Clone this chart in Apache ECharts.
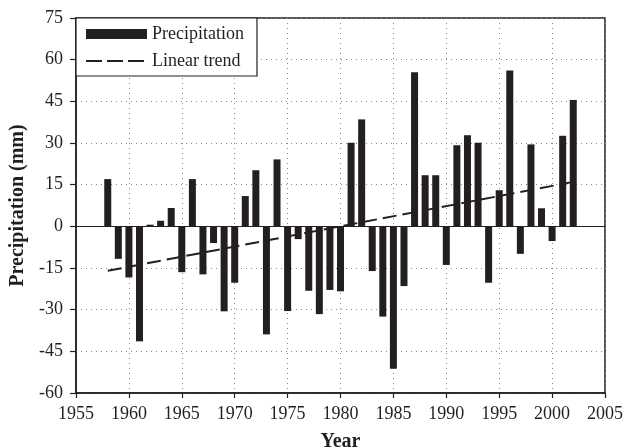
<!DOCTYPE html>
<html>
<head>
<meta charset="utf-8">
<script src="https://cdn.jsdelivr.net/npm/echarts@6/dist/echarts.min.js"></script>
<style>
html,body{margin:0;padding:0;background:#fff;}
#chart{width:625px;height:447px;}
</style>
</head>
<body>
<div id="chart"></div>
<script>
var years = [1958,1959,1960,1961,1962,1963,1964,1965,1966,1967,1968,1969,1970,1971,1972,1973,1974,1975,1976,1977,1978,1979,1980,1981,1982,1983,1984,1985,1986,1987,1988,1989,1990,1991,1992,1993,1994,1995,1996,1997,1998,1999,2000,2001,2002];
var precipitation = [17.0,-11.7,-18.4,-41.4,0.6,2.0,6.6,-16.5,17.0,-17.3,-6.0,-30.6,-20.3,10.9,20.2,-38.9,24.1,-30.5,-4.6,-23.2,-31.6,-22.9,-23.4,30.1,38.5,-16.1,-32.5,-51.3,-21.5,55.5,18.4,18.4,-13.9,29.2,32.8,30.1,-20.3,13.0,56.1,-9.9,29.5,6.5,-5.3,32.6,45.5];
var trendYears = [1958, 2002];
var trendValues = [-16.0, 16.0];
var xTicks = [1955,1960,1965,1970,1975,1980,1985,1990,1995,2000,2005];
var yTicks = [-60,-45,-30,-15,0,15,30,45,60,75];

var barData = years.map(function(y,i){ return [y, precipitation[i]]; });
var trendData = trendYears.map(function(y,i){ return [y, trendValues[i]]; });

var font = 'Liberation Serif';
var ink = '#231f20';
var chart = echarts.init(document.getElementById('chart'), null, {renderer:'canvas'});
chart.setOption({
  animation: false,
  backgroundColor: '#fff',
  textStyle: {fontFamily: font},
  grid: {left: 76, right: 20, top: 18, bottom: 54, outerBoundsMode: 'none', containLabel: false,
         show: true, borderColor: ink, borderWidth: 1.5, backgroundColor: 'transparent'},
  legend: {
    orient: 'vertical', left: 76, top: 18,
    padding: [7, 13, 6, 9], itemGap: 9,
    itemWidth: 61, itemHeight: 10,
    backgroundColor: '#fff', borderColor: ink, borderWidth: 1.2, borderRadius: 0,
    textStyle: {fontFamily: font, fontSize: 18, color: ink},
    data: [
      {name: 'Precipitation', icon: 'rect'},
      {name: 'Linear trend', icon: 'line',
       itemStyle: {color: ink, borderColor: ink, borderWidth: 2, borderType: [16,5]}}
    ]
  },
  xAxis: {
    type: 'value', min: xTicks[0], max: xTicks[xTicks.length-1], interval: 5,
    name: 'Year', nameLocation: 'middle', nameGap: 39,
    nameTextStyle: {fontFamily: font, fontSize: 20, fontWeight: 'bold', color: ink},
    axisLine: {onZero: false, lineStyle: {color: ink, width: 1.5}},
    axisTick: {inside: false, length: 5, lineStyle: {color: ink, width: 1.2}},
    axisLabel: {fontFamily: font, fontSize: 18, color: ink, margin: 12, formatter: function(v){return String(v);}},
    splitLine: {show: true, lineStyle: {color: '#888', type: [1,4], width: 1}}
  },
  yAxis: {
    type: 'value', min: yTicks[0], max: yTicks[yTicks.length-1], interval: 15,
    name: 'Precipitation (mm)', nameLocation: 'middle', nameGap: 40,
    nameTextStyle: {fontFamily: font, fontSize: 20, fontWeight: 'bold', color: ink},
    axisLine: {show: true, lineStyle: {color: ink, width: 1.5}},
    axisTick: {inside: false, length: 6, lineStyle: {color: ink, width: 1.2}},
    axisLabel: {fontFamily: font, fontSize: 18, color: ink, margin: 13},
    splitLine: {show: true, lineStyle: {color: '#888', type: [1,4], width: 1}}
  },
  series: [
    {
      name: 'Precipitation', type: 'bar', data: barData, barWidth: 7,
      itemStyle: {color: ink},
      z: 2,
      markLine: {
        silent: true, symbol: 'none', label: {show: false},
        lineStyle: {color: ink, type: 'solid', width: 1.2},
        data: [{yAxis: 0}]
      }
    },
    {
      name: 'Linear trend', type: 'line', data: trendData, symbol: 'none',
      lineStyle: {color: ink, width: 2, type: [14,6]},
      itemStyle: {color: ink},
      z: 3
    }
  ]
});
</script>
</body>
</html>
